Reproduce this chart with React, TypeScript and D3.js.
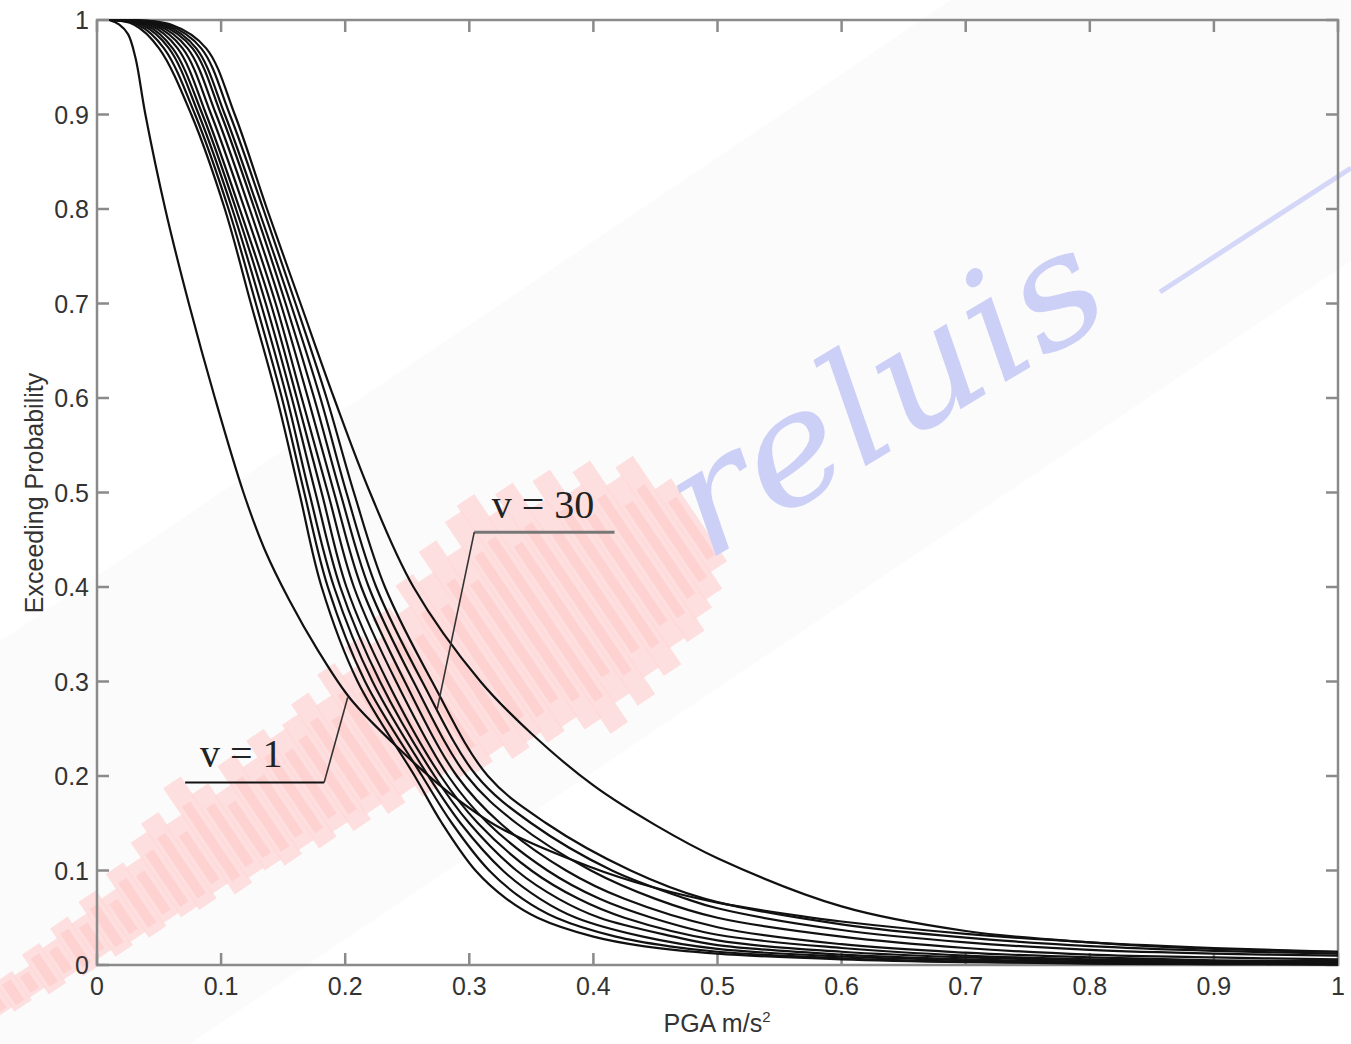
import React from "react";
import * as d3 from "d3";

// tick values (both axes run 0..1)
const xTicks = [0, 0.1, 0.2, 0.3, 0.4, 0.5, 0.6, 0.7, 0.8, 0.9, 1];
const yTicks = [0, 0.1, 0.2, 0.3, 0.4, 0.5, 0.6, 0.7, 0.8, 0.9, 1];

type Pt = [number, number];

// v = 1 curve (leftmost, long tail)
const curveV1: Pt[] = [
  [0.01, 1], [0.018, 0.995], [0.025, 0.985], [0.031, 0.96], [0.039, 0.9], [0.055, 0.8], [0.074, 0.7],
  [0.095, 0.6], [0.118, 0.5], [0.135, 0.44], [0.155, 0.386], [0.178, 0.333], [0.204, 0.282],
  [0.244, 0.228], [0.284, 0.182], [0.325, 0.145], [0.397, 0.104], [0.446, 0.083],
  [0.5, 0.066], [0.566, 0.052], [0.6, 0.046], [0.7, 0.033], [0.8, 0.024], [0.9, 0.018], [1.0, 0.014],
];

// the other curves, left to right in the middle of the plot
const curveB1: Pt[] = [
  [0.01, 1], [0.03, 0.995], [0.05, 0.97], [0.076, 0.9], [0.103, 0.8], [0.124, 0.7], [0.145, 0.6],
  [0.163, 0.5], [0.181, 0.4], [0.21, 0.3], [0.256, 0.2], [0.278, 0.15], [0.305, 0.1], [0.33, 0.07],
  [0.355, 0.05], [0.4, 0.03], [0.44, 0.02], [0.5, 0.012], [0.6, 0.006], [0.7, 0.003], [0.8, 0.0015], [0.9, 0.001], [1.0, 0.0005],
];
const curveB2: Pt[] = [
  [0.01, 1], [0.033, 0.995], [0.054, 0.97], [0.079, 0.9], [0.106, 0.8], [0.128, 0.7], [0.149, 0.6],
  [0.167, 0.5], [0.186, 0.4], [0.216, 0.3], [0.262, 0.2], [0.286, 0.15], [0.316, 0.1], [0.343, 0.07],
  [0.37, 0.05], [0.418, 0.03], [0.46, 0.02], [0.5, 0.014], [0.6, 0.007], [0.7, 0.0035], [0.8, 0.002], [0.9, 0.001], [1.0, 0.0007],
];
const curveB3: Pt[] = [
  [0.01, 1], [0.036, 0.995], [0.058, 0.97], [0.082, 0.9], [0.109, 0.8], [0.132, 0.7], [0.153, 0.6],
  [0.171, 0.5], [0.191, 0.4], [0.222, 0.3], [0.267, 0.2], [0.293, 0.15], [0.327, 0.1], [0.357, 0.07],
  [0.386, 0.05], [0.44, 0.03], [0.5, 0.017], [0.6, 0.009], [0.7, 0.005], [0.8, 0.003], [0.9, 0.002], [1.0, 0.001],
];
const curveB4: Pt[] = [
  [0.01, 1], [0.039, 0.995], [0.061, 0.97], [0.085, 0.9], [0.112, 0.8], [0.136, 0.7], [0.157, 0.6],
  [0.176, 0.5], [0.196, 0.4], [0.228, 0.3], [0.272, 0.2], [0.3, 0.15], [0.338, 0.1], [0.372, 0.07],
  [0.405, 0.05], [0.465, 0.03], [0.5, 0.021], [0.6, 0.011], [0.7, 0.006], [0.8, 0.0035], [0.9, 0.0025], [1.0, 0.0015],
];
const curveB5: Pt[] = [
  [0.01, 1], [0.042, 0.995], [0.065, 0.97], [0.088, 0.9], [0.115, 0.8], [0.14, 0.7], [0.161, 0.6],
  [0.181, 0.5], [0.201, 0.4], [0.234, 0.3], [0.277, 0.2], [0.307, 0.15], [0.35, 0.1], [0.388, 0.07],
  [0.425, 0.05], [0.5, 0.026], [0.6, 0.014], [0.7, 0.008], [0.8, 0.005], [0.9, 0.003], [1.0, 0.002],
];
const curveB6: Pt[] = [
  [0.01, 1], [0.045, 0.995], [0.069, 0.97], [0.092, 0.9], [0.119, 0.8], [0.144, 0.7], [0.165, 0.6],
  [0.186, 0.5], [0.207, 0.4], [0.241, 0.3], [0.283, 0.2], [0.315, 0.15], [0.363, 0.1], [0.405, 0.07],
  [0.447, 0.05], [0.5, 0.032], [0.6, 0.018], [0.7, 0.01], [0.8, 0.006], [0.9, 0.004], [1.0, 0.003],
];
const curveB7: Pt[] = [
  [0.01, 1], [0.048, 0.995], [0.073, 0.97], [0.096, 0.9], [0.123, 0.8], [0.148, 0.7], [0.17, 0.6],
  [0.191, 0.5], [0.213, 0.4], [0.248, 0.3], [0.29, 0.2], [0.325, 0.15], [0.378, 0.1], [0.425, 0.07],
  [0.5, 0.04], [0.6, 0.022], [0.7, 0.013], [0.8, 0.008], [0.9, 0.005], [1.0, 0.004],
];
const curveB8: Pt[] = [
  [0.01, 1], [0.051, 0.995], [0.077, 0.97], [0.1, 0.9], [0.127, 0.8], [0.152, 0.7], [0.175, 0.6],
  [0.196, 0.5], [0.219, 0.4], [0.255, 0.3], [0.298, 0.2], [0.338, 0.15], [0.398, 0.1], [0.45, 0.07],
  [0.5, 0.05], [0.6, 0.03], [0.7, 0.018], [0.8, 0.011], [0.9, 0.008], [1.0, 0.006],
];
const curveB9: Pt[] = [
  [0.01, 1], [0.054, 0.995], [0.08, 0.97], [0.103, 0.9], [0.13, 0.8], [0.156, 0.7], [0.18, 0.6],
  [0.201, 0.5], [0.225, 0.4], [0.262, 0.3], [0.306, 0.2], [0.35, 0.15], [0.415, 0.1], [0.475, 0.07],
  [0.5, 0.06], [0.6, 0.037], [0.7, 0.024], [0.8, 0.016], [0.9, 0.012], [1.0, 0.01],
];
const curveB10: Pt[] = [
  [0.01, 1], [0.057, 0.995], [0.084, 0.97], [0.107, 0.9], [0.134, 0.8], [0.16, 0.7], [0.185, 0.6],
  [0.207, 0.5], [0.232, 0.4], [0.27, 0.3], [0.315, 0.2], [0.362, 0.15], [0.43, 0.1], [0.49, 0.07],
  [0.6, 0.043], [0.7, 0.029], [0.8, 0.02], [0.9, 0.015], [1.0, 0.012],
];
// v = 30 side, the widest curve
const curveB11: Pt[] = [
  [0.01, 1], [0.06, 0.995], [0.088, 0.97], [0.111, 0.9], [0.137, 0.8], [0.164, 0.7], [0.191, 0.6],
  [0.22, 0.5], [0.255, 0.4], [0.309, 0.3], [0.35, 0.245], [0.4, 0.19], [0.45, 0.148],
  [0.5, 0.113], [0.6, 0.062], [0.7, 0.036], [0.8, 0.024], [0.9, 0.017], [1.0, 0.014],
];

const allCurves = [curveV1, curveB1, curveB2, curveB3, curveB4, curveB5, curveB6,
  curveB7, curveB8, curveB9, curveB10, curveB11];

// annotations: label text, text anchor, leader bar, leader start end and target point
const notes = [
  { label: "v = 30", tx: 0.318, ty: 0.473, lx0: 0.304, lx1: 0.417, ly: 0.458, from: 0.304, px: 0.274, py: 0.27, bar: "#777", barW: 3 },
  { label: "v = 1", tx: 0.083, ty: 0.209, lx0: 0.071, lx1: 0.183, ly: 0.193, from: 0.183, px: 0.202, py: 0.283, bar: "#111", barW: 2 },
];

// watermark seismogram amplitudes (px, above / below its baseline)
const waveUp = [12, 20, 15, 28, 22, 34, 26, 40, 30, 48, 42, 60, 70, 55, 87, 66, 52, 75, 60, 80, 68, 73,
  85, 70, 95, 80, 102, 90, 110, 100, 125, 115, 140, 120, 150, 157, 130, 145, 113, 135, 105, 120, 90, 100, 60];
const waveDown = [10, 15, 12, 20, 16, 24, 18, 26, 22, 29, 25, 30, 34, 28, 41, 35, 38, 45, 40, 50, 44, 55,
  48, 60, 52, 65, 58, 70, 75, 68, 84, 78, 90, 85, 100, 118, 95, 110, 90, 100, 80, 85, 70, 60, 40];

const W = 1351;
const H = 1044;

function fmt(t: number) {
  if (t === 0) return "0";
  if (t === 1) return "1";
  return t.toFixed(1);
}

export default function App() {
  const x = d3.scaleLinear().domain([0, 1]).range([97, 1338]);
  const y = d3.scaleLinear().domain([0, 1]).range([965, 20]);
  const line = d3
    .line<Pt>()
    .x((d) => x(d[0]))
    .y((d) => y(d[1]))
    .curve(d3.curveCatmullRom.alpha(0.5));

  const wave = d3.scaleBand<number>().domain(d3.range(waveUp.length)).range([0, 860]);
  const axisColor = "#8a8a8a";
  const labelFont = "'Liberation Sans', Arial, sans-serif";

  return (
    <div style={{ position: "absolute", left: 0, top: 0 }}>
      <style>{`body{margin:0}`}</style>
      <svg width={W} height={H} style={{ display: "block", background: "#fff" }}>
        <defs>
          <clipPath id="plotClip">
            <rect x={x(0)} y={y(1) - 1} width={x(1) - x(0)} height={y(0) - y(1) + 2} />
          </clipPath>
        </defs>
        {/* watermark */}
        <g transform="translate(-10,1010) rotate(-34)">
          <rect x={-300} y={-300} width={2400} height={440} fill="#fbfbfb" />
          {waveUp.map((u, i) => (
            <rect key={"w" + i} x={wave(i)} y={-u} width={wave.bandwidth() + 2}
              height={u + waveDown[i]} fill="#ffd8d8" opacity={0.8} />
          ))}
          {waveUp.map((u, i) => (
            <rect key={"k" + i} x={(wave(i) || 0) + 5} y={-u * 0.7} width={wave.bandwidth() - 9}
              height={(u + waveDown[i]) * 0.7} fill="#ffc6c6" opacity={0.5} />
          ))}
        </g>
        <g transform="translate(706,562) rotate(-31)">
          <text x={0} y={0} fontFamily="'DejaVu Serif', serif" fontStyle="italic"
            fontSize={155} fill="#cdd0f6" textLength={480} lengthAdjust="spacingAndGlyphs">reluis</text>
        </g>
        <line x1={1160} y1={292} x2={1351} y2={168} stroke="#d4d7f8" strokeWidth={5} />

        {/* frame */}
        <rect x={x(0)} y={y(1)} width={x(1) - x(0)} height={y(0) - y(1)} fill="none"
          stroke={axisColor} strokeWidth={2.5} />
        {xTicks.map((t) => (
          <g key={"xt" + t}>
            <line x1={x(t)} x2={x(t)} y1={y(0)} y2={y(0) - 12} stroke={axisColor} strokeWidth={2.5} />
            <line x1={x(t)} x2={x(t)} y1={y(1)} y2={y(1) + 12} stroke={axisColor} strokeWidth={2.5} />
            <text x={x(t)} y={y(0) + 30} textAnchor="middle" fontFamily={labelFont} fontSize={25}
              fill="#333">{fmt(t)}</text>
          </g>
        ))}
        {yTicks.map((t) => (
          <g key={"yt" + t}>
            <line x1={x(0)} x2={x(0) + 12} y1={y(t)} y2={y(t)} stroke={axisColor} strokeWidth={2.5} />
            <line x1={x(1)} x2={x(1) - 12} y1={y(t)} y2={y(t)} stroke={axisColor} strokeWidth={2.5} />
            <text x={x(0) - 8} y={y(t) + 9} textAnchor="end" fontFamily={labelFont} fontSize={25}
              fill="#333">{fmt(t)}</text>
          </g>
        ))}

        {/* curves */}
        <g clipPath="url(#plotClip)">
          {allCurves.map((c, i) => (
            <path key={"c" + i} d={line(c) || ""} fill="none" stroke="#111" strokeWidth={2.2} />
          ))}
        </g>

        {/* annotations */}
        {notes.map((n) => (
          <g key={n.label}>
            <line x1={x(n.lx0)} x2={x(n.lx1)} y1={y(n.ly)} y2={y(n.ly)} stroke={n.bar} strokeWidth={n.barW} />
            <line x1={x(n.from)} y1={y(n.ly)} x2={x(n.px)} y2={y(n.py)} stroke="#333" strokeWidth={1.6} />
            <text x={x(n.tx)} y={y(n.ty)} fontFamily="'Liberation Serif', 'Times New Roman', serif"
              fontSize={40} fill="#222">{n.label}</text>
          </g>
        ))}

        {/* axis titles */}
        <text x={717} y={1032} textAnchor="middle" fontFamily={labelFont} fontSize={25} fill="#333">
          PGA m/s<tspan dy={-10} fontSize={15}>2</tspan>
        </text>
        <text transform={`translate(43,493) rotate(-90)`} textAnchor="middle" fontFamily={labelFont}
          fontSize={25} fill="#333">Exceeding Probability</text>
      </svg>
    </div>
  );
}
